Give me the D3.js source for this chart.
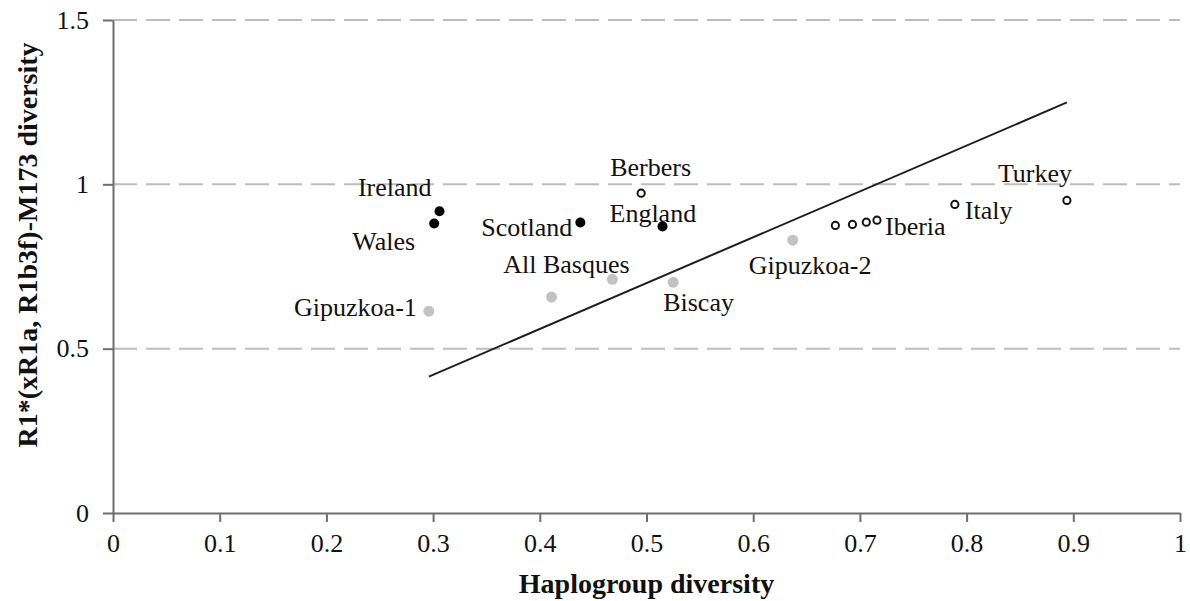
<!DOCTYPE html>
<html>
<head>
<meta charset="utf-8">
<script src="https://cdn.jsdelivr.net/npm/d3@7"></script>
<style>
  html, body { margin: 0; padding: 0; background: #fff; }
  svg { display: block; }
  text { font-family: "Liberation Serif", "Times New Roman", serif; fill: #111; }
</style>
</head>
<body>
<svg id="chart" width="1190" height="601"></svg>
<script>
// Population samples: haplogroup diversity vs. R1*(xR1a, R1b3f)-M173 diversity
const populations = ["Ireland", "Wales", "Scotland", "England",
  "Gipuzkoa-1", "Basques (other)", "All Basques", "Biscay", "Gipuzkoa-2",
  "Berbers", "Iberia-a", "Iberia-b", "Iberia-c", "Iberia", "Italy", "Turkey"];
const haplogroupDiversity = [0.306, 0.301, 0.438, 0.515,
  0.296, 0.411, 0.468, 0.525, 0.637,
  0.495, 0.677, 0.693, 0.706, 0.716, 0.789, 0.894];
const r1Diversity = [0.918, 0.881, 0.884, 0.872,
  0.614, 0.657, 0.711, 0.702, 0.830,
  0.973, 0.875, 0.878, 0.885, 0.891, 0.939, 0.951];
const groups = ["british", "british", "british", "british",
  "basque", "basque", "basque", "basque", "basque",
  "other", "other", "other", "other", "other", "other", "other"];
const pointLabels = ["Ireland", "Wales", "Scotland", "England",
  "Gipuzkoa-1", "", "All Basques", "Biscay", "Gipuzkoa-2",
  "Berbers", "", "", "", "Iberia", "Italy", "Turkey"];

// Linear fit across the samples
const fitSlope = 1.395;
const fitIntercept = 0.002;

// Axis ticks
const xTicks = [0, 0.1, 0.2, 0.3, 0.4, 0.5, 0.6, 0.7, 0.8, 0.9, 1];
const yTicks = [0, 0.5, 1, 1.5];
const xTitle = "Haplogroup diversity";
const yTitle = "R1*(xR1a, R1b3f)-M173 diversity";

// Label placement relative to each point (pixels)
const labelPlacement = {
  "Ireland":     { dx: -8,  dy: -24, anchor: "end" },
  "Wales":       { dx: -19, dy: 18,  anchor: "end" },
  "Scotland":    { dx: -8,  dy: 5,   anchor: "end" },
  "England":     { dx: -53, dy: -13, anchor: "start" },
  "Gipuzkoa-1":  { dx: -12, dy: -4,  anchor: "end" },
  "All Basques": { dx: -46, dy: -15, anchor: "middle" },
  "Biscay":      { dx: -10, dy: 20,  anchor: "start" },
  "Gipuzkoa-2":  { dx: -44, dy: 25,  anchor: "start" },
  "Berbers":     { dx: -31, dy: -26, anchor: "start" },
  "Iberia":      { dx: 8,   dy: 6,   anchor: "start" },
  "Italy":       { dx: 10,  dy: 6,   anchor: "start" },
  "Turkey":      { dx: -69, dy: -27, anchor: "start" }
};

const margin = { left: 113, right: 10, top: 20, bottom: 88 };
const W = 1190, H = 601;
const svg = d3.select("#chart");

const x = d3.scaleLinear().domain([0, 1]).range([margin.left, W - margin.right]);
const y = d3.scaleLinear().domain([0, 1.5]).range([H - margin.bottom, margin.top]);

// Dashed horizontal gridlines
svg.append("g").selectAll("line")
  .data(yTicks.filter(d => d > 0))
  .join("line")
  .attr("x1", x(0)).attr("x2", x(1))
  .attr("y1", d => y(d)).attr("y2", d => y(d))
  .attr("stroke", "#bdbdbd")
  .attr("stroke-width", 2)
  .attr("stroke-dasharray", "24 9");

// Axes
const xAxis = svg.append("g")
  .attr("transform", `translate(0,${y(0)})`)
  .call(d3.axisBottom(x).tickValues(xTicks).tickFormat(d3.format("")).tickSizeInner(9).tickSizeOuter(0).tickPadding(12));
const yAxis = svg.append("g")
  .attr("transform", `translate(${x(0)},0)`)
  .call(d3.axisLeft(y).tickValues(yTicks).tickFormat(d3.format("")).tickSizeInner(10).tickSizeOuter(0).tickPadding(14));

[xAxis, yAxis].forEach(g => {
  g.select(".domain").attr("stroke", "#6e6e6e").attr("stroke-width", 2);
  g.selectAll(".tick line").attr("stroke", "#6e6e6e").attr("stroke-width", 2);
  g.selectAll(".tick text")
    .attr("font-family", "Liberation Serif, serif")
    .attr("font-size", 26)
    .attr("fill", "#111");
});

// Axis titles
svg.append("text")
  .attr("x", x(0.5)).attr("y", 583)
  .attr("text-anchor", "middle")
  .attr("dominant-baseline", "central")
  .attr("font-size", 28).attr("font-weight", "bold")
  .text(xTitle);
svg.append("text")
  .attr("transform", `translate(27,245) rotate(-90)`)
  .attr("text-anchor", "middle")
  .attr("dominant-baseline", "central")
  .attr("font-size", 28).attr("font-weight", "bold")
  .text(yTitle);

// Regression line over the observed range
const xExtent = d3.extent(haplogroupDiversity);
svg.append("line")
  .attr("x1", x(xExtent[0])).attr("y1", y(fitIntercept + fitSlope * xExtent[0]))
  .attr("x2", x(xExtent[1])).attr("y2", y(fitIntercept + fitSlope * xExtent[1]))
  .attr("stroke", "#1e1e1e").attr("stroke-width", 2);

// Points
const data = populations.map((p, i) => ({
  name: p, hx: haplogroupDiversity[i], ry: r1Diversity[i], group: groups[i], label: pointLabels[i]
}));

const markStyle = {
  british: { r: 5,   fill: "#000",    stroke: "none", sw: 0 },
  basque:  { r: 5.5, fill: "#c2c2c2", stroke: "none", sw: 0 },
  other:   { r: 3.6, fill: "#fff",    stroke: "#111", sw: 2 }
};

svg.append("g").selectAll("circle")
  .data(data)
  .join("circle")
  .attr("cx", d => x(d.hx))
  .attr("cy", d => y(d.ry))
  .attr("r", d => markStyle[d.group].r)
  .attr("fill", d => markStyle[d.group].fill)
  .attr("stroke", d => markStyle[d.group].stroke)
  .attr("stroke-width", d => markStyle[d.group].sw);

// Point labels
svg.append("g").selectAll("text")
  .data(data.filter(d => d.label))
  .join("text")
  .attr("x", d => x(d.hx) + labelPlacement[d.label].dx)
  .attr("y", d => y(d.ry) + labelPlacement[d.label].dy)
  .attr("text-anchor", d => labelPlacement[d.label].anchor)
  .attr("dominant-baseline", "central")
  .attr("font-size", 26)
  .text(d => d.label);
</script>
</body>
</html>
